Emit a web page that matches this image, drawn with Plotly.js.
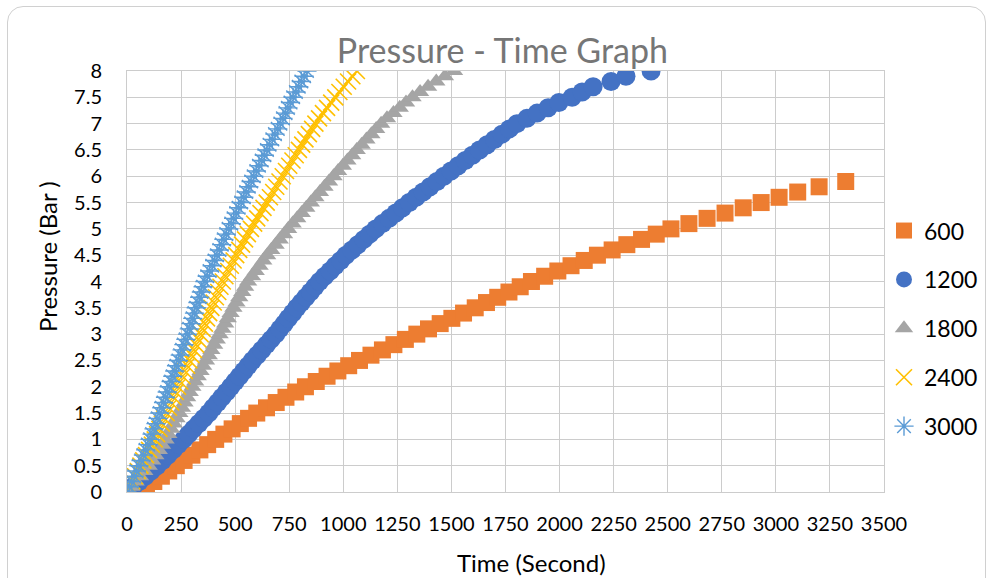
<!DOCTYPE html>
<html>
<head>
<meta charset="utf-8">
<script src="https://cdn.plot.ly/plotly-3.0.1.min.js"></script>
<style>
  html, body { margin: 0; padding: 0; width: 987px; height: 578px; overflow: hidden; background: #ffffff; }
  #frame { position: absolute; left: 7px; top: 6px; width: 979px; height: 600px; border: 1px solid #d0d0d0; border-radius: 16px; box-sizing: border-box; }
  #chart { position: absolute; left: 0; top: 0; width: 987px; height: 578px; }
</style>
</head>
<body>
<div id="frame"></div>
<div id="chart"></div>
<script>
// Pressure steps (Bar)
const pressureBar = [0,0.1,0.2,0.3,0.4,0.5,0.6,0.7,0.8,0.9,1,1.1,1.2,1.3,1.4,1.5,1.6,1.7,1.8,1.9,2,2.1,2.2,2.3,2.4,2.5,2.6,2.7,2.8,2.9,3,3.1,3.2,3.3,3.4,3.5,3.6,3.7,3.8,3.9,4,4.1,4.2,4.3,4.4,4.5,4.6,4.7,4.8,4.9,5,5.1,5.2,5.3,5.4,5.5,5.6,5.7,5.8,5.9,6,6.1,6.2,6.3,6.4,6.5,6.6,6.7,6.8,6.9,7,7.1,7.2,7.3,7.4,7.5,7.6,7.7,7.8,7.9,8];

// Time (s) per series
const time600 = [55,90,124,159,193,228,264,300,337,373,410,448,486,524,562,600,645,690,735,780,825,875,925,975,1025,1075,1128,1181,1234,1287,1340,1394,1448,1502,1556,1610,1662,1714,1766,1818,1870,1931,1992,2053,2114,2175,2243,2311,2379,2447,2515,2598,2682,2765,2849,2932,3015,3101,3200,3323];
const time1200 = [0,28,56,84,111,139,164,188,213,237,262,285,308,332,355,378,398,419,439,460,480,500,520,540,560,580,602,623,645,666,688,707,727,746,766,785,806,827,848,869,890,914,939,963,988,1012,1040,1067,1095,1122,1150,1181,1212,1243,1274,1305,1337,1369,1401,1433,1465,1498,1531,1564,1597,1630,1665,1699,1734,1768,1803,1849,1896,1947,1997,2058,2104,2155,2238,2307,2423];
const time1800 = [0,20,40,60,80,100,116,131,147,162,178,191,204,216,229,242,254,266,278,290,302,315,327,340,352,365,378,390,403,415,428,441,454,466,479,492,506,519,533,546,560,578,595,613,630,648,667,687,706,726,745,766,787,808,829,850,871,892,913,934,955,976,998,1019,1041,1062,1085,1107,1130,1152,1175,1202,1232,1261,1290,1320,1355,1392,1430,1470,1512];
const time2400 = [0,12,25,37,50,62,75,88,102,115,128,139,150,161,172,183,194,204,215,225,236,246,257,267,278,288,298,309,319,330,340,350,360,370,380,390,401,411,422,432,443,455,468,480,493,505,519,532,546,559,573,588,602,617,631,646,661,676,690,705,720,735,750,765,780,795,810,825,841,856,871,888,906,925,944,963,982,1002,1022,1042,1063];
const time3000 = [0,11,22,33,44,55,65,76,86,97,107,116,125,134,143,152,161,169,178,186,195,204,212,221,229,238,246,255,263,272,280,288,296,304,312,320,328,336,344,352,360,371,382,394,405,416,427,438,448,459,470,482,493,505,516,528,540,551,563,574,586,598,610,623,635,647,659,672,684,697,709,721,733,744,756,768,781,794,806,819,832];

const seriesNames = ["600","1200","1800","2400","3000"];
const seriesColors = ["#ED7D31","#4472C4","#A5A5A5","#FFC000","#5B9BD5"];

const FONT = "Lato, 'Open Sans', sans-serif";

const traces = [
  {x: time600, y: pressureBar.slice(0, time600.length), name: seriesNames[0], legendgroup: "a",
   mode: "markers", type: "scatter",
   marker: {symbol: "square", size: 17, color: seriesColors[0]}},
  {x: time1200, y: pressureBar, name: seriesNames[1], legendgroup: "b",
   mode: "markers", type: "scatter",
   marker: {symbol: "circle", size: 19, color: seriesColors[1]}},
  {x: time1800, y: pressureBar, name: seriesNames[2], legendgroup: "c",
   mode: "markers", type: "scatter",
   marker: {symbol: "triangle-up", size: 16, color: seriesColors[2]}},
  {x: time2400, y: pressureBar, name: seriesNames[3], legendgroup: "d",
   mode: "markers", type: "scatter",
   marker: {symbol: "x-thin-open", size: 16, color: seriesColors[3], line: {color: seriesColors[3], width: 1.6}}},
  {x: time3000, y: pressureBar, name: seriesNames[4], legendgroup: "e",
   mode: "markers", type: "scatter",
   marker: {symbol: "asterisk-open", size: 16, color: seriesColors[4], line: {color: seriesColors[4], width: 1.4}}}
];

const layout = {
  width: 987, height: 578,
  margin: {l: 127, r: 103, t: 71, b: 86, pad: 0, autoexpand: false},
  paper_bgcolor: "rgba(0,0,0,0)",
  plot_bgcolor: "#ffffff",
  font: {family: FONT, color: "#000000", size: 20},
  title: {text: "Pressure - Time Graph", x: 0.509, xanchor: "center", y: 0.912, yanchor: "middle",
          font: {family: FONT, size: 34, color: "#767676"}},
  xaxis: {range: [0, 3500], dtick: 250, tick0: 0, showgrid: true, gridcolor: "#cccccc", gridwidth: 1,
          zeroline: false, showline: true, linecolor: "#cccccc", linewidth: 1, mirror: true,
          ticks: "", ticklabelstandoff: 14, tickfont: {family: FONT, size: 20, color: "#000"}, fixedrange: true},
  yaxis: {range: [0, 8], dtick: 0.5, tick0: 0, showgrid: true, gridcolor: "#cccccc", gridwidth: 1,
          zeroline: false, showline: true, linecolor: "#cccccc", linewidth: 1, mirror: true,
          ticks: "", ticklabelstandoff: 20, tickfont: {family: FONT, size: 20, color: "#000"}, fixedrange: true},
  legend: {x: 1.0, xanchor: "left", y: 0.672, yanchor: "top", traceorder: "grouped", tracegroupgap: 16,
           font: {family: FONT, size: 23, color: "#000"}, bgcolor: "rgba(0,0,0,0)", itemwidth: 30},
  annotations: [
    {text: "Pressure (Bar )", xref: "paper", yref: "paper", x: -0.106, y: 0.56, textangle: -90,
     showarrow: false, font: {family: FONT, size: 24, color: "#000"}, xanchor: "center", yanchor: "middle"},
    {text: "Time (Second)", xref: "paper", yref: "paper", x: 0.535, y: -0.168,
     showarrow: false, font: {family: FONT, size: 24, color: "#000"}, xanchor: "center", yanchor: "middle"}
  ],
  showlegend: true
};

Plotly.newPlot("chart", traces, layout, {displayModeBar: false, staticPlot: true});
</script>
</body>
</html>
